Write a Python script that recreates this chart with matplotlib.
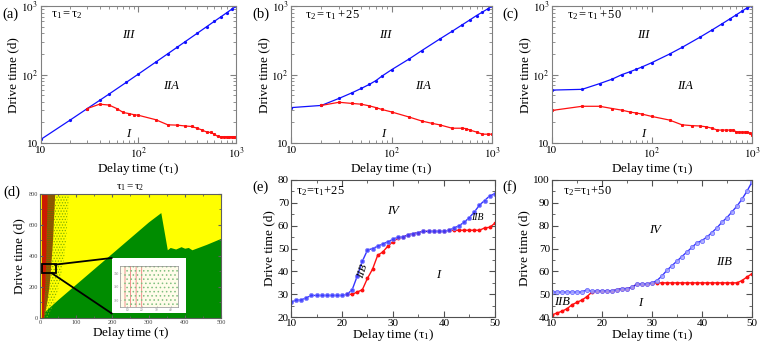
import numpy as np
import matplotlib
matplotlib.use('Agg')
import matplotlib.pyplot as plt
from matplotlib.patches import Rectangle
from matplotlib.ticker import MultipleLocator, LogLocator, NullFormatter

plt.rcParams['font.family'] = ['Liberation Serif', 'DejaVu Serif']
plt.rcParams['mathtext.fontset'] = 'stix'
plt.rcParams['hatch.linewidth'] = 0.6

# === DATA ===
# (a) tau1 = tau2
a_blue_x = [10, 20, 30, 40, 50, 75, 100, 150, 200, 250, 300, 400, 500, 600, 700, 800, 900, 1000]
a_blue_y = [11.3, 21.7, 32, 42, 52, 77, 102, 152, 202, 252, 302, 402, 502, 602, 700, 800, 900, 1000]
a_red_x = [30, 40, 50, 60, 70, 80, 90, 100, 150, 200, 250, 300, 350, 400, 450, 500, 550, 600,
           650, 700, 750, 800, 850, 900, 950, 1000]
a_red_y = [32, 37, 36, 32, 28, 27, 26, 25.5, 22, 18.5, 18.3, 17.8, 17.5, 16.5, 15.5, 14.5, 14.3,
           13.5, 12.5, 12.4, 12.4, 12.4, 12.4, 12.4, 12.4, 12.4]

# (b) tau2 = tau1 + 25
b_blue_x = [10, 20, 30, 40, 50, 60, 70, 80, 100, 150, 200, 300, 400, 500, 600, 700, 800, 900, 1000]
b_blue_y = [33, 35.5, 45, 54, 63, 72, 82, 95, 118, 170, 225, 330, 430, 530, 630, 730, 820, 910, 1000]
b_red_x = [20, 30, 40, 50, 60, 70, 80, 100, 150, 200, 250, 300, 400, 500, 550, 600, 700, 800, 900, 1000]
b_red_y = [35.5, 39.5, 38, 37, 35, 33, 31, 28.5, 24, 21, 19.5, 18.5, 16.5, 16.5, 16.3, 15.5, 14.5,
           13.5, 13.5, 13.5]

# (c) tau2 = tau1 + 50
c_blue_x = [10, 20, 30, 40, 50, 60, 70, 80, 100, 150, 200, 300, 400, 500, 600, 700, 800, 900, 1000]
c_blue_y = [59.5, 61, 74, 86, 100, 110, 120, 130, 150, 200, 250, 350, 450, 550, 650, 750, 850, 950, 1000]
c_red_x = [10, 20, 30, 40, 50, 60, 70, 80, 100, 150, 200, 250, 300, 350, 400, 450, 500, 550, 600,
           650, 700, 750, 800, 850, 900, 950, 1000]
c_red_y = [30, 34.5, 34.5, 32, 30.3, 28.5, 27.5, 26.5, 24.5, 21.7, 18.5, 18, 17.8, 17.3, 16.5, 15.5,
           15.5, 15.5, 15.5, 15.5, 14.6, 14.5, 14.4, 14.4, 14.3, 14, 13.1]

# (d) phase map tau1 = tau2 : region boundaries
d_green_x = [7, 50, 100, 150, 200, 250, 300, 334, 352, 360, 375, 390, 400, 410, 420, 460, 500]
d_green_y = [30, 120, 220, 320, 420, 520, 620, 680, 440, 455, 445, 460, 450, 455, 440, 475, 514]
d_band_y = [0, 100, 200, 300, 400, 500, 600, 700, 800]
d_red_edge = [9, 11, 13, 15, 16, 17, 18, 19, 20]
d_mix_edge = [12, 20, 26, 30, 33, 36, 38, 40, 42]
d_dots_edge = [20, 40, 52, 60, 68, 72, 75, 78, 80]

# (e) tau2 = tau1 + 25
e_blue_x = list(range(10, 51))
e_blue_y = [26.5, 27.5, 27.5, 28.5, 29.5, 29.5, 29.5, 29.5, 29.5, 29.5, 29.5,
            30, 32, 38, 44.5, 49.3, 50, 51, 52, 53, 54,
            55, 55, 56, 56.5, 57, 57.5, 57.5, 57.5, 57.5, 57.5,
            58, 59, 60, 61.5, 63.5, 66, 69, 71, 73, 74]
e_red_x = list(range(21, 51))
e_red_y = [30, 30, 31, 32, 37, 41, 47, 48.5, 51, 53,
           54.5, 55, 56, 56.5, 57, 57.5, 57.5, 57.5, 57.5, 57.5,
           58, 58, 58, 58, 58, 58, 58, 59, 59.3, 61]

# (f) tau2 = tau1 + 50
f_blue_x = list(range(10, 51))
f_blue_y = [51, 51, 51, 51, 51, 51, 51,
            52, 51.3, 51.5, 51.5, 51.5, 51.5, 52, 52.5, 52.5, 53, 54.5, 54.5, 54.5, 55,
            56, 58, 60.5, 62.5, 64.5, 66.5, 68.5, 70.5, 72.5, 73.5,
            75, 77, 79, 81.5, 83.5, 86, 88.5, 91.5, 95, 99]
f_red_x = list(range(10, 51))
f_red_y = [41, 41.8, 42.6, 43.7, 45.4, 46.5, 47.5, 49, 51, 51.5, 51.5, 51.5, 51.5, 52, 52.5, 52.5,
           53, 54.5, 54.5, 54.5, 55,
           55, 55, 55, 55, 55, 55, 55, 55, 55, 55, 55, 55, 55, 55, 55, 55, 55,
           56, 57.5, 59]

BLUE = '#1010ff'
RED = '#ff1010'
SPINE = '#808080'

fig = plt.figure(figsize=(7.6, 3.44), dpi=100)


def style_axes(ax, spine_color):
    for s in ax.spines.values():
        s.set_color(spine_color)
        s.set_linewidth(0.8)
    ax.tick_params(which='both', direction='in', top=True, right=True, color=spine_color,
                   labelsize=8, pad=2)
    ax.tick_params(which='major', length=4)
    ax.tick_params(which='minor', length=2)


def log_panel(rect, bx, by, rx, ry, note, tag, spots):
    ax = fig.add_axes(rect)
    ax.set_xscale('log')
    ax.set_yscale('log')
    ax.plot(bx, by, color=BLUE, lw=0.9, marker='o', ms=1.3)
    ax.plot(rx, ry, color=RED, lw=0.9, marker='s', ms=1.2)
    ax.set_xlim(10, 1000)
    ax.set_ylim(10, 1000)
    ax.set_xticks([10, 100, 1000])
    ax.set_xticklabels(['10', '$10^2$', '$10^3$'])
    ax.set_yticks([10, 100, 1000])
    ax.set_yticklabels(['10', '$10^2$', '$10^3$'])
    ax.xaxis.set_minor_locator(LogLocator(subs=np.arange(2, 10)))
    ax.yaxis.set_minor_locator(LogLocator(subs=np.arange(2, 10)))
    ax.xaxis.set_minor_formatter(NullFormatter())
    ax.yaxis.set_minor_formatter(NullFormatter())
    style_axes(ax, SPINE)
    ax.set_xlabel(r'Delay time ($\mathregular{\tau_1}$)', fontsize=9.5, labelpad=0)
    ax.set_ylabel('Drive time (d)', fontsize=9.5, labelpad=1)
    ax.text(note[0], 0.935, note[1], transform=ax.transAxes, fontsize=9, va='center')
    for (fx, fy, s) in spots:
        ax.text(fx, fy, s, transform=ax.transAxes, fontsize=9, style='italic',
                ha='center', va='center')
    fig.text(tag[0], 0.958, tag[1], fontsize=10.5, va='center')
    return ax


log_panel([0.0536, 0.584, 0.257, 0.398], a_blue_x, a_blue_y, a_red_x, a_red_y,
          (0.05, r'$\mathregular{\tau_1 = \tau_2}$'), (0.003, '(a)'),
          [(0.447, 0.79, 'III'), (0.667, 0.42, 'IIA'), (0.447, 0.07, 'I')])
log_panel([0.383, 0.584, 0.2645, 0.398], b_blue_x, b_blue_y, b_red_x, b_red_y,
          (0.07, r'$\mathregular{\tau_2 = \tau_1 + 25}$'), (0.332, '(b)'),
          [(0.468, 0.79, 'III'), (0.657, 0.42, 'IIA'), (0.458, 0.07, 'I')])
log_panel([0.7263, 0.584, 0.263, 0.398], c_blue_x, c_blue_y, c_red_x, c_red_y,
          (0.075, r'$\mathregular{\tau_2 = \tau_1 + 50}$'), (0.661, '(c)'),
          [(0.455, 0.79, 'III'), (0.665, 0.42, 'IIA'), (0.455, 0.07, 'I')])

# === (d) phase map ===
axd = fig.add_axes([0.0526, 0.0756, 0.238, 0.3605])
axd.set_facecolor('#ffff00')
axd.set_xlim(0, 500)
axd.set_ylim(0, 800)
axd.fill_between(d_green_x, 0, d_green_y, color='#008c00', lw=0)
axd.fill_betweenx(d_band_y, d_mix_edge, d_dots_edge, facecolor='none', edgecolor='#80b000',
                  hatch='......', lw=0)
axd.fill_betweenx(d_band_y, d_red_edge, d_mix_edge, facecolor='#6f6a00', edgecolor='#d83000',
                  hatch='........', lw=0)
axd.fill_betweenx(d_band_y, 4, d_red_edge, color='#cc1a00', lw=0)
axd.add_patch(Rectangle((198, 30), 207, 359, facecolor='white', edgecolor='none', zorder=5))
axd.add_patch(Rectangle((5, 290), 38, 56, fill=False, edgecolor='black', lw=1.3, zorder=6))
axd.plot([41, 198], [344, 387], color='black', lw=1.3, zorder=6)
axd.plot([32, 198], [290, 30], color='black', lw=1.3, zorder=6)
axd.set_xticks([0, 100, 200, 300, 400, 500])
axd.set_yticks([0, 200, 400, 600, 800])
axd.xaxis.set_minor_locator(MultipleLocator(50))
axd.yaxis.set_minor_locator(MultipleLocator(100))
style_axes(axd, '#606060')
axd.tick_params(labelsize=4.5, labelcolor='#404040', pad=1.5)
axd.tick_params(which='major', length=2.5)
axd.tick_params(which='minor', length=1.2)
axd.set_xlabel(r'Delay time ($\mathregular{\tau}$)', fontsize=9.5, labelpad=0)
axd.set_ylabel('Drive time (d)', fontsize=9.5, labelpad=2)
axd.set_title(r'$\mathregular{\tau_1 = \tau_2}$', fontsize=8, pad=3)
fig.text(0.004, 0.44, '(d)', fontsize=10.5, va='center')

ins = fig.add_axes([0.158, 0.108, 0.0767, 0.118], zorder=10)
ins.set_facecolor('#fffcea')
ins.set_xlim(5, 45)
ins.set_ylim(290, 350)
ins.fill_between([5, 22], 290, 350, facecolor='none', edgecolor='#f08080', hatch='|||', lw=0)
ins.fill_between([8, 45], 290, 350, facecolor='none', edgecolor='#80c080', hatch='....', lw=0)
ins.set_xticks([10, 20, 30, 40])
ins.set_yticks([300, 320, 340])
for s in ins.spines.values():
    s.set_color('#909090')
    s.set_linewidth(0.5)
ins.tick_params(direction='in', length=1, width=0.4, labelsize=2.5, labelcolor='#808080',
                pad=0.5, color='#909090')


def lin_panel(rect, bx, by, rx, ry, ylim, note, tag, spots, bface, bedge):
    ax = fig.add_axes(rect)
    ax.plot(rx, ry, color=RED, lw=1, marker='o', ms=1.8, mfc=RED, mec=RED)
    ax.plot(bx, by, color=BLUE, lw=1, marker='o', ms=3.0, mfc=bface, mec=bedge, mew=0.6,
            alpha=0.85)
    ax.set_xlim(10, 50)
    ax.set_ylim(*ylim)
    ax.xaxis.set_major_locator(MultipleLocator(10))
    ax.xaxis.set_minor_locator(MultipleLocator(5))
    ax.yaxis.set_major_locator(MultipleLocator(10))
    ax.yaxis.set_minor_locator(MultipleLocator(5))
    style_axes(ax, '#505050')
    ax.tick_params(pad=1.5)
    ax.set_xlabel(r'Delay time ($\mathregular{\tau_1}$)', fontsize=9.5, labelpad=-1)
    ax.set_ylabel('Drive time (d)', fontsize=9.5, labelpad=2)
    ax.text(note[0], 0.915, note[1], transform=ax.transAxes, fontsize=9, va='center')
    for (dx, dy, s, fs, rot) in spots:
        ax.text(dx, dy, s, fontsize=fs, style='italic', ha='center', va='center', rotation=rot)
    fig.text(tag[0], 0.455, tag[1], fontsize=10.5, va='center')
    return ax


lin_panel([0.383, 0.078, 0.268, 0.399], e_blue_x, e_blue_y, e_red_x, e_red_y, (20, 80),
          (0.025, r'$\mathregular{\tau_2\!=\!\tau_1\!+\!25}$'), (0.332, '(e)'),
          [(30, 66.2, 'IV', 9, 0), (38.8, 38.6, 'I', 9, 0), (24.1, 40, 'IIB', 8, 72),
           (46.6, 63.5, 'IIB', 7, 0)], '#3c3cff', '#8080ff')
lin_panel([0.7263, 0.078, 0.263, 0.399], f_blue_x, f_blue_y, f_red_x, f_red_y, (40, 100),
          (0.055, r'$\mathregular{\tau_2\!=\!\tau_1\!+\!50}$'), (0.661, '(f)'),
          [(30.6, 77.9, 'IV', 9, 0), (44.4, 64.3, 'IIB', 9, 0), (12, 46.8, 'IIB', 9, 0),
           (27.6, 46, 'I', 9, 0)], '#a8a8ff', '#6060ff')

fig.savefig('out.png', dpi=100)
